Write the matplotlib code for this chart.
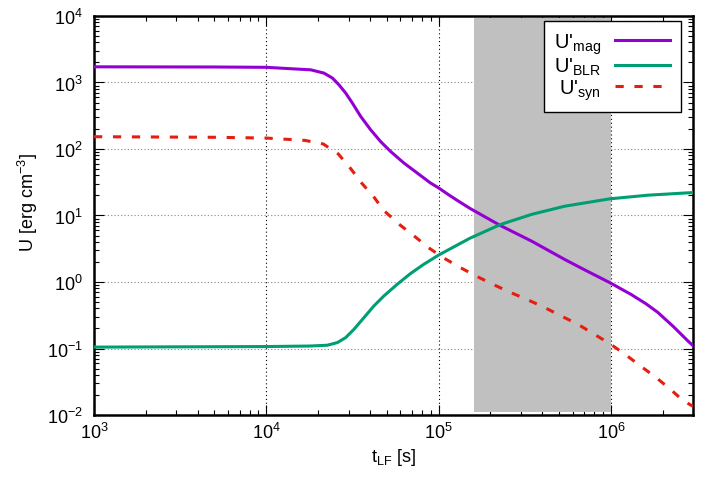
#匯入模組
import matplotlib
matplotlib.use('Agg')
import matplotlib.pyplot as plt
from matplotlib.ticker import NullFormatter

#字型設定
plt.rcParams['font.family'] = ['Liberation Sans', 'DejaVu Sans']
plt.rcParams['mathtext.fontset'] = 'custom'
plt.rcParams['mathtext.rm'] = 'Liberation Sans'
plt.rcParams['mathtext.it'] = 'Liberation Sans:italic'
plt.rcParams['font.size'] = 13

#資料
t_mag = [1e3, 5e3, 1e4, 1.39e4, 1.81e4, 2.16e4, 2.42e4, 2.64e4, 2.89e4, 3.16e4,
         3.53e4, 4.03e4, 4.6e4, 5.26e4, 6.28e4, 7.5e4, 8.96e4, 1e5, 1.14e5,
         1.31e5, 1.52e5, 2.28e5, 3.47e5, 5.4e5, 7.05e5, 9.84e5, 1.31e6, 1.6e6,
         1.87e6, 2.3e6, 2.79e6, 3e6]
U_mag = [1720, 1710, 1690, 1610, 1550, 1385, 1165, 923, 692, 490,
         309, 195, 130, 92, 61.7, 43.7, 30.9, 26, 20.6,
         16.3, 12.8, 7.08, 4.11, 2.18, 1.52, 0.98, 0.65, 0.47,
         0.35, 0.215, 0.131, 0.11]

t_blr = [1e3, 1e4, 1.79e4, 2.26e4, 2.59e4, 2.89e4, 3.23e4, 3.69e4, 4.21e4, 4.81e4,
         5.75e4, 6.87e4, 8.19e4, 1e5, 1.33e5, 1.52e5, 2.28e5, 3.47e5, 5.4e5,
         9.84e5, 1.64e6, 2.79e6, 3e6]
U_blr = [0.105, 0.107, 0.109, 0.112, 0.123, 0.146, 0.195, 0.292, 0.436, 0.616,
         0.923, 1.34, 1.84, 2.54, 3.78, 4.55, 7.3, 10.4, 13.8,
         17.8, 20.2, 21.9, 22.1]

t_syn = [1e3, 5e3, 1e4, 1.68e4, 2.14e4, 2.62e4, 3.09e4, 3.59e4, 4.25e4, 4.79e4,
         5.89e4, 7.16e4, 8.71e4, 1.07e5, 1.33e5, 1.66e5, 2.09e5, 2.6e5, 3.24e5,
         4.07e5, 5.13e5, 6.46e5, 7.94e5, 9.77e5, 1.2e6, 1.48e6, 1.82e6, 2.19e6,
         2.63e6, 3e6]
U_syn = [153, 150, 146, 134.6, 119, 84, 50.6, 30.4, 18.4, 12.0,
         7.4, 5.0, 3.3, 2.3, 1.66, 1.22, 0.91, 0.70, 0.55,
         0.42, 0.31, 0.23, 0.166, 0.12, 0.083, 0.055, 0.037, 0.025,
         0.0164, 0.0135]

#灰色區間
band_t = [1.6e5, 1e6]
band_U = [1.1e-2, 9.3e3]

#畫圖
fig = plt.figure(figsize=(7.16, 4.81), dpi=100)
ax = fig.add_axes([0.1313, 0.1351, 0.8367, 0.8296])

ax.set_xscale('log')
ax.set_yscale('log')
ax.set_xlim(1e3, 3e6)
ax.set_ylim(1e-2, 1e4)

#格線
ax.grid(True, which='major', axis='x', color='black', linestyle=(0, (1, 2.5)), linewidth=0.8, zorder=0)
ax.grid(True, which='major', axis='y', color='#888888', linestyle=(0, (1, 2)), linewidth=0.8, zorder=0)
ax.set_axisbelow(True)

ax.fill_between(band_t, band_U[0], band_U[1], color='#c0c0c0', linewidth=0, zorder=1)

ax.plot(t_mag, U_mag, color='#9400d3', linewidth=2.2, label="U'$_\\mathregular{mag}$", zorder=3)
ax.plot(t_blr, U_blr, color='#009e73', linewidth=2.2, label="U'$_\\mathregular{BLR}$", zorder=3)
ax.plot(t_syn, U_syn, color='#e51e10', linewidth=2.2, linestyle=(0, (2.7, 3.5)),
        label="U'$_\\mathregular{syn}$", zorder=3)

#刻度
ax.tick_params(which='both', direction='in', top=True, right=True, width=0.8)
ax.tick_params(which='major', length=7)
ax.tick_params(which='minor', length=3.5)
ax.tick_params(axis='y', pad=8)
ax.tick_params(axis='x', pad=5)
ax.xaxis.set_minor_formatter(NullFormatter())
ax.yaxis.set_minor_formatter(NullFormatter())
for s in ax.spines.values():
    s.set_linewidth(1.8)

ax.set_xlabel('t$_\\mathregular{LF}$ [s]', labelpad=3)
ax.set_ylabel('U [erg cm$^\\mathregular{-3}$]')
ax.yaxis.set_label_coords(-0.09, 0.535)

leg = ax.legend(loc='upper right', bbox_to_anchor=(0.979, 0.987), borderaxespad=0,
                markerfirst=False, fancybox=False, framealpha=1, edgecolor='black',
                fontsize=14.5, handlelength=2.75, labelspacing=0.0, borderpad=0.5,
                handletextpad=0.7)
leg.get_frame().set_linewidth(1.0)
leg.set_zorder(5)

fig.savefig('out.png', dpi=100)
